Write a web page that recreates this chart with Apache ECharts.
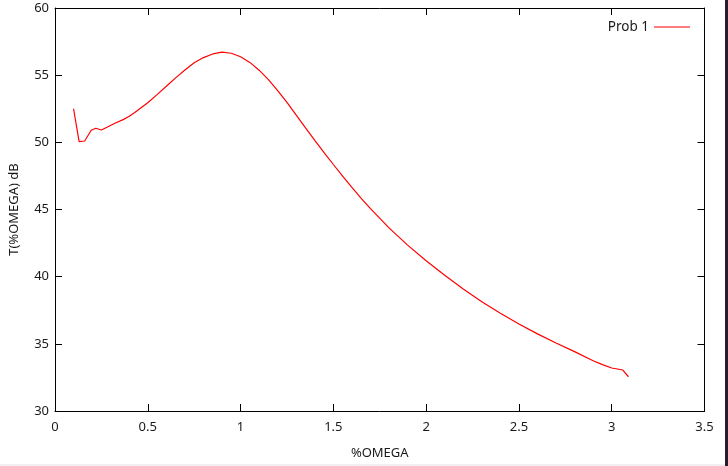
<!DOCTYPE html>
<html>
<head>
<meta charset="utf-8">
<script src="https://cdn.jsdelivr.net/npm/echarts@6/dist/echarts.min.js"></script>
<style>
html,body{margin:0;padding:0;background:#fff;}
#chart{width:728px;height:466px;}
</style>
</head>
<body>
<div id="chart"></div>
<script>
var seriesName = 'Prob 1';
var xTitle = '%OMEGA';
var yTitle = 'T(%OMEGA) dB';
var omega = [0.10, 0.13, 0.16, 0.195, 0.22, 0.25, 0.28, 0.32, 0.37, 0.40, 0.43, 0.46, 0.50, 0.55, 0.60, 0.65, 0.70, 0.75, 0.80, 0.85, 0.90, 0.95, 1.00, 1.05, 1.10, 1.15, 1.20, 1.25, 1.30, 1.35, 1.40, 1.45, 1.50, 1.55, 1.60, 1.65, 1.70, 1.80, 1.90, 2.00, 2.10, 2.20, 2.30, 2.40, 2.50, 2.60, 2.70, 2.80, 2.90, 2.95, 3.00, 3.06, 3.09];
var tdb = [52.5, 50.05, 50.1, 50.9, 51.05, 50.92, 51.12, 51.4, 51.71, 51.94, 52.22, 52.53, 52.95, 53.55, 54.17, 54.8, 55.38, 55.92, 56.31, 56.58, 56.72, 56.63, 56.37, 55.95, 55.37, 54.67, 53.85, 52.98, 52.02, 51.08, 50.15, 49.23, 48.35, 47.48, 46.64, 45.83, 45.06, 43.63, 42.35, 41.18, 40.10, 39.09, 38.14, 37.27, 36.47, 35.74, 35.06, 34.42, 33.74, 33.45, 33.2, 33.05, 32.55];

var pts = omega.map(function(x, i){ return [x, tdb[i]]; });
var font = 'Noto Sans';
var txt = '#1a1a1a';

var chart = echarts.init(document.getElementById('chart'), null, {renderer:'canvas'});
var baseX = {
  type: 'value', min: 0, max: 3.5, interval: 0.5,
  axisLine: {show: true, onZero: false, lineStyle: {color: '#000', width: 1}},
  axisTick: {show: true, inside: true, length: 7, lineStyle: {color: '#000'}},
  splitLine: {show: false}
};
var baseY = {
  type: 'value', min: 30, max: 60, interval: 5,
  axisLine: {show: true, onZero: false, lineStyle: {color: '#000', width: 1}},
  axisTick: {show: true, inside: true, length: 7, lineStyle: {color: '#000'}},
  splitLine: {show: false}
};
chart.setOption({
  animation: false,
  backgroundColor: '#fff',
  grid: {left: 54.5, right: 23.5, top: 8, bottom: 55, containLabel: false},
  legend: {
    show: true, right: 33, top: 15, align: 'right',
    icon: 'rect', itemWidth: 36, itemHeight: 1.2,
    textStyle: {fontFamily: font, fontSize: 13.5, color: txt},
    data: [{name: seriesName, itemStyle: {color: '#ff0000'}}]
  },
  xAxis: [
    Object.assign({}, baseX, {
      position: 'bottom', name: xTitle, nameLocation: 'middle', nameGap: 36,
      nameTextStyle: {fontFamily: font, fontSize: 13, color: txt},
      axisLabel: {fontFamily: font, fontSize: 13, color: txt, margin: 10,
        formatter: function(v){ return String(v); }}
    }),
    Object.assign({}, baseX, {position: 'top', axisLabel: {show: false}})
  ],
  yAxis: [
    Object.assign({}, baseY, {
      position: 'left', name: yTitle, nameLocation: 'middle', nameGap: 34,
      nameTextStyle: {fontFamily: font, fontSize: 13, color: txt},
      axisLabel: {fontFamily: font, fontSize: 13, color: txt, margin: 6}
    }),
    Object.assign({}, baseY, {position: 'right', axisLabel: {show: false}})
  ],
  series: [{
    name: seriesName, type: 'line', data: pts, showSymbol: false, symbol: 'none',
    smooth: false, lineStyle: {color: '#ff0000', width: 1.2}, itemStyle: {color: '#ff0000'}
  }],
  graphic: [
    {type: 'rect', shape: {x: 725, y: 0, width: 3, height: 466}, style: {fill: '#2b1b2b'}, silent: true},
    {type: 'rect', shape: {x: 0, y: 464, width: 725, height: 2}, style: {fill: '#f0f0f0'}, silent: true}
  ]
});
</script>
</body>
</html>
